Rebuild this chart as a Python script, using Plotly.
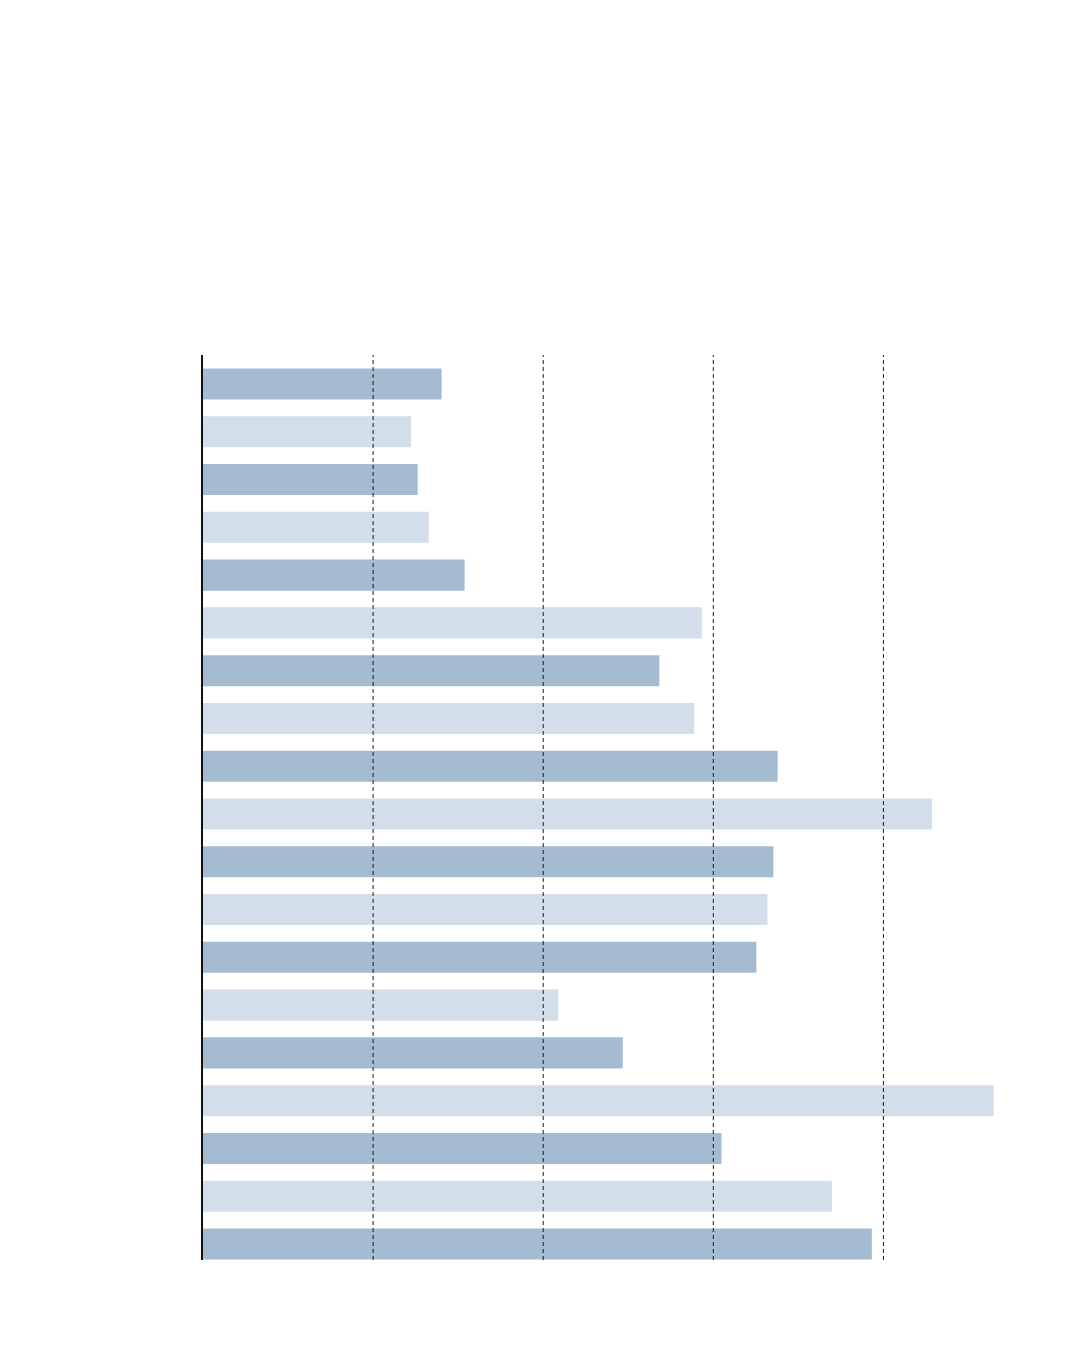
import plotly.graph_objects as go

# Data (19 horizontal bars, top to bottom)
positions = list(range(19))
values = [1.403, 1.222, 1.262, 1.327, 1.538, 2.933, 2.683, 2.888, 3.378, 4.285,
          3.353, 3.318, 3.253, 2.088, 2.468, 4.648, 3.048, 3.697, 3.932]
grid_ticks = [1, 2, 3, 4]

DARK = "#a4bbd2"
LIGHT = "#d2dee9"
colors = [DARK if i % 2 == 0 else LIGHT for i in range(len(values))]

fig = go.Figure(go.Bar(
    x=values, y=positions, orientation="h",
    marker=dict(color=colors, line=dict(width=0)),
    width=0.65, hoverinfo="skip",
))

for t in grid_ticks:
    fig.add_shape(type="line", x0=t, x1=t, y0=0, y1=1, xref="x", yref="paper",
                  line=dict(color="#1a1a1a", width=1, dash="4px,3px"), layer="above")

fig.update_layout(
    width=1080, height=1360,
    margin=dict(l=195, r=77, t=347, b=108),
    paper_bgcolor="white", plot_bgcolor="white",
    showlegend=False,
    xaxis=dict(range=[0, 4.75], showgrid=False, zeroline=False, showticklabels=False,
               ticks="", showline=False),
    yaxis=dict(range=[18.335, -0.607], showgrid=False, zeroline=False, showticklabels=False,
               ticks="", showline=True, linecolor="#111111", linewidth=1.5),
)

fig.write_html("out.html")
